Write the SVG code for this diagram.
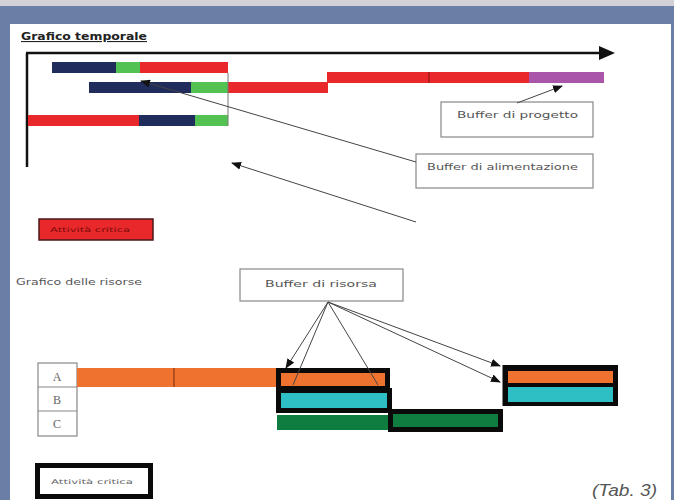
<svg xmlns="http://www.w3.org/2000/svg" width="674" height="500" viewBox="0 0 674 500">
<defs>
<marker id="ah" markerUnits="userSpaceOnUse" markerWidth="10" markerHeight="8" refX="9" refY="4" orient="auto">
<path d="M0,0 L10,4 L0,8 Z" fill="#111"/>
</marker>
<marker id="ahBig" markerUnits="userSpaceOnUse" markerWidth="16" markerHeight="14" refX="15" refY="7" orient="auto">
<path d="M0,0 L16,7 L0,14 Z" fill="#111"/>
</marker>
<style>
.lbl{font-family:"DejaVu Sans","Liberation Sans",sans-serif;fill:#555;}
.box{fill:#fff;stroke:#888;stroke-width:1.2;}
.con{stroke:#444;stroke-width:1;fill:none;}
.crit{stroke:#0a0a0a;stroke-width:5;}
.navy{fill:#1f2c5c;}
.grn{fill:#52c252;}
.red{fill:#e8282b;}
.org{fill:#f0722f;}
.cyn{fill:#2dbfc3;}
.dgn{fill:#0f7d3f;}
</style>
</defs>
<!-- frame -->
<rect x="0" y="0" width="674" height="500" fill="#6a7ea6"/>
<rect x="0" y="0" width="674" height="6" fill="#d4d0d8"/>
<rect x="10" y="24" width="661" height="476" fill="#ffffff"/>

<text x="21" y="40" class="lbl" style="font-weight:bold;fill:#222;text-decoration:underline" font-size="11" textLength="126" lengthAdjust="spacingAndGlyphs">Grafico temporale</text>

<!-- time axis -->
<g id="axis">
<line x1="27" y1="53" x2="27" y2="167" stroke="#111" stroke-width="2.5"/>
<line x1="26" y1="53" x2="600" y2="53" stroke="#111" stroke-width="2.5"/>
<path d="M599,46 L615,53 L599,60 Z" fill="#111"/>
</g>

<!-- Gantt bars -->
<g id="row1">
<rect x="52" y="62" width="64" height="11" class="navy"/>
<rect x="116" y="62" width="24" height="11" class="grn"/>
<rect x="140" y="62" width="88" height="11" class="red"/>
</g>
<g id="row2">
<rect x="89" y="82" width="102" height="11" class="navy"/>
<rect x="191" y="82" width="37" height="11" class="grn"/>
<rect x="228" y="82" width="100" height="11" class="red"/>
<rect x="327" y="72" width="102" height="11" class="red"/>
<rect x="429" y="72" width="100" height="11" class="red"/>
<line x1="429" y1="72" x2="429" y2="83" stroke="#8a1010" stroke-width="1"/>
<rect x="529" y="72" width="75" height="11" fill="#a855aa"/>
</g>
<g id="row3">
<rect x="28" y="115" width="111" height="11" class="red"/>
<rect x="139" y="115" width="56" height="11" class="navy"/>
<rect x="195" y="115" width="33" height="11" class="grn"/>
</g>
<line x1="228" y1="73" x2="228" y2="126" stroke="#777" stroke-width="1"/>

<!-- callout boxes -->
<g id="buffer-progetto">
<rect x="441" y="102" width="152" height="35" class="box"/>
<text x="457" y="118" class="lbl" font-size="9" textLength="121" lengthAdjust="spacingAndGlyphs">Buffer di progetto</text>
</g>
<g id="buffer-alimentazione">
<rect x="416" y="154" width="177" height="34" class="box"/>
<text x="427" y="170" class="lbl" font-size="9" textLength="151" lengthAdjust="spacingAndGlyphs">Buffer di alimentazione</text>
</g>

<!-- legend 1 -->
<g id="legend-red">
<rect x="39" y="219" width="114" height="21" fill="#e8282b" stroke="#4a1818" stroke-width="1.5"/>
<text x="50" y="232" class="lbl" style="fill:#7a0a0a" font-size="6.5" textLength="80" lengthAdjust="spacingAndGlyphs">Attività critica</text>
</g>

<text x="16" y="285" class="lbl" font-size="9.5" textLength="126" lengthAdjust="spacingAndGlyphs">Grafico delle risorse</text>

<g id="buffer-risorsa">
<rect x="240" y="269" width="163" height="32" class="box"/>
<text x="265" y="287" class="lbl" font-size="9" textLength="112" lengthAdjust="spacingAndGlyphs">Buffer di risorsa</text>
</g>

<!-- resource table -->
<g id="table">
<rect x="38" y="363" width="39" height="73" fill="#fff" stroke="#888" stroke-width="1.2"/>
<line x1="38" y1="387" x2="77" y2="387" stroke="#888" stroke-width="1.2"/>
<line x1="38" y1="411" x2="77" y2="411" stroke="#888" stroke-width="1.2"/>
<text x="57" y="381" text-anchor="middle" font-family="Liberation Serif,serif" font-size="12" fill="#666">A</text>
<text x="57" y="404" text-anchor="middle" font-family="Liberation Serif,serif" font-size="12" fill="#666">B</text>
<text x="57" y="428" text-anchor="middle" font-family="Liberation Serif,serif" font-size="12" fill="#666">C</text>
</g>

<g id="resA-bar">
<rect x="77" y="368" width="200" height="19" class="org"/>
<line x1="174" y1="368" x2="174" y2="387" stroke="#7a2a10" stroke-width="1"/>
</g>
<g id="critA1">
<rect x="278.5" y="370.5" width="109" height="18" class="org crit"/>
</g>
<g id="critB1">
<rect x="278.5" y="390.5" width="111" height="20" class="cyn crit"/>
</g>
<g id="resC1">
<rect x="277" y="415" width="112" height="15" class="dgn"/>
</g>
<g id="critC2">
<rect x="390.5" y="411.5" width="110" height="18" class="dgn crit"/>
</g>
<g id="critAB2">
<rect x="505" y="367.5" width="110.5" height="36" fill="#0a0a0a" class="crit"/>
<rect x="508" y="371" width="105" height="12" class="org"/>
<rect x="508" y="387" width="105" height="15" class="cyn"/>
</g>

<!-- connectors -->
<g id="connectors">
<line x1="416" y1="162" x2="141" y2="81" class="con" marker-end="url(#ah)"/>
<line x1="416" y1="222" x2="232" y2="163" class="con" marker-end="url(#ah)"/>
<line x1="517" y1="103" x2="562" y2="86" class="con" marker-end="url(#ah)"/>
<line x1="328" y1="302" x2="286" y2="368" class="con" marker-end="url(#ah)"/>
<line x1="328" y1="302" x2="293" y2="385" class="con"/>
<line x1="328" y1="302" x2="378" y2="385" class="con"/>
<line x1="328" y1="302" x2="500" y2="366" class="con" marker-end="url(#ah)"/>
<line x1="328" y1="302" x2="500" y2="382" class="con" marker-end="url(#ah)"/>
</g>

<!-- legend 2 -->
<g id="legend-critica">
<rect x="37.5" y="465.5" width="113" height="31" fill="#fff" class="crit"/>
<text x="51" y="484" class="lbl" style="fill:#666" font-size="6.5" textLength="82" lengthAdjust="spacingAndGlyphs">Attività critica</text>
</g>

<text x="592" y="496" font-family="Liberation Sans Narrow,Liberation Sans,sans-serif" font-style="italic" font-size="16" fill="#555" textLength="65" lengthAdjust="spacingAndGlyphs">(Tab. 3)</text>
</svg>
